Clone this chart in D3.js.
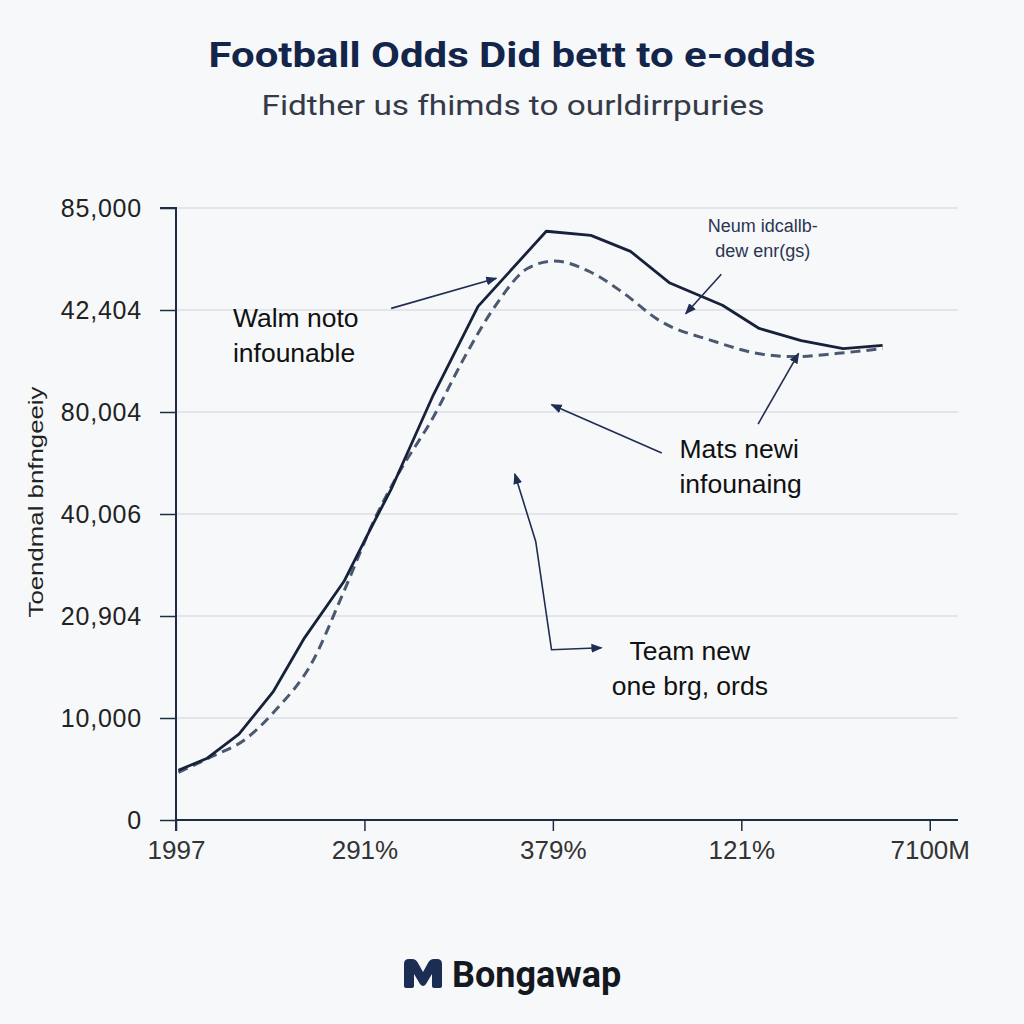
<!DOCTYPE html>
<html><head><meta charset="utf-8">
<script src="https://cdn.jsdelivr.net/npm/d3@7"></script>
<style>html,body{margin:0;padding:0;background:#f7f8fa;}svg{display:block;}</style>
</head><body>
<script>
// ---- data ----
const yTickLabels = ["0","10,000","20,904","40,006","80,004","42,404","85,000"];
const xTickLabels = ["1997","291%","379%","121%","7100M"];
const solidX = [0.013,0.166,0.334,0.515,0.682,0.891,1.031,1.142,1.366,1.603,1.965,2.202,2.412,2.621,2.900,3.095,3.318,3.541,3.750];
const solidY = [0.487,0.606,0.842,1.255,1.786,2.338,2.850,3.243,4.169,5.035,5.772,5.732,5.575,5.264,5.047,4.819,4.700,4.622,4.653];
const dashX = [0.013,0.194,0.361,0.529,0.724,0.877,1.059,1.170,1.366,1.533,1.700,1.867,2.007,2.202,2.370,2.565,2.844,3.123,3.290,3.513,3.750];
const dashY = [0.468,0.625,0.782,1.078,1.551,2.180,2.968,3.362,3.952,4.543,5.055,5.409,5.480,5.370,5.173,4.897,4.700,4.563,4.543,4.575,4.622];
const annotationTexts = [
  {lines:["Walm noto","infounable"], x:0.302, y:4.83, anchor:"start", size:26.5, color:"#111"},
  {lines:["Neum idcallb-","dew enr(gs)"], x:3.114, y:5.76, anchor:"middle", size:18, color:"#2b3550"},
  {lines:["Mats newi","infounaing"], x:2.672, y:3.55, anchor:"start", size:26.5, color:"#111"},
  {lines:["Team new","one brg, ords"], x:2.727, y:1.57, anchor:"middle", size:26.5, color:"#111"}
];
const arrows = [
  {pts:[[1.142,5.016],[1.700,5.311]], heads:"end"},
  {pts:[[2.894,5.350],[2.705,4.964]], heads:"end"},
  {pts:[[2.578,3.598],[1.993,4.071]], heads:"end"},
  {pts:[[3.089,3.882],[3.304,4.575]], heads:"end"},
  {pts:[[2.258,1.688],[1.993,1.669],[1.909,2.731],[1.798,3.393]], heads:"both"}
];

const W=1024,H=1024;
const svg=d3.select("body").append("svg").attr("width",W).attr("height",H);
svg.append("rect").attr("width",W).attr("height",H).attr("fill","#f7f8fa");

const x=d3.scaleLinear().domain([0,4.15]).range([176,958]);
const y=d3.scaleLinear().domain([0,6]).range([820,208]);

const defs=svg.append("defs");
defs.append("marker").attr("id","ah").attr("viewBox","0 0 10 10").attr("refX",9).attr("refY",5)
  .attr("markerWidth",7).attr("markerHeight",7).attr("orient","auto-start-reverse")
  .append("path").attr("d","M0,1 L10,5 L0,9 Z").attr("fill","#1f2d50");

// title
svg.append("text").attr("x",512).attr("y",67).attr("text-anchor","middle")
  .attr("font-family","Roboto, sans-serif").attr("font-weight","bold").attr("font-size",35)
  .attr("fill","#13254a").attr("textLength",607).attr("lengthAdjust","spacingAndGlyphs")
  .text("Football Odds Did bett to e-odds");
svg.append("text").attr("x",513).attr("y",115).attr("text-anchor","middle")
  .attr("font-family","Roboto, sans-serif").attr("font-size",28)
  .attr("fill","#343a48").attr("textLength",503).attr("lengthAdjust","spacingAndGlyphs")
  .text("Fidther us fhimds to ourldirrpuries");

// gridlines
svg.append("g").selectAll("line").data(d3.range(1,7)).join("line")
  .attr("x1",x(0)).attr("x2",x(4.15)).attr("y1",d=>y(d)).attr("y2",d=>y(d))
  .attr("stroke","#dcdfe4").attr("stroke-width",1.5);

// y axis
const yAxis=d3.axisLeft(y).tickValues(d3.range(0,7)).tickFormat(i=>yTickLabels[i]).tickSize(16).tickPadding(18);
const gy=svg.append("g").attr("transform",`translate(${x(0)},0)`).call(yAxis);
gy.select(".domain").attr("stroke","#1f2d44").attr("stroke-width",2).attr("d",`M-16,${y(6)}H0V${y(0)+11}`);
gy.selectAll(".tick line").attr("stroke","#1f2d44").attr("stroke-width",1.5);
gy.selectAll(".tick text").attr("font-family","Liberation Sans, Arial, sans-serif").attr("font-size",25)
  .attr("letter-spacing","0.8").attr("fill","#222").attr("dy","0.35em");

// x axis
const xAxis=d3.axisBottom(x).tickValues(d3.range(0,5)).tickFormat(i=>xTickLabels[i]).tickSize(11).tickPadding(10);
const gx=svg.append("g").attr("transform",`translate(0,${y(0)})`).call(xAxis);
gx.select(".domain").attr("stroke","#1f2d44").attr("stroke-width",2).attr("d",`M${x(0)},0H${x(4.15)}`);
gx.selectAll(".tick line").attr("stroke","#1f2d44").attr("stroke-width",1.5);
gx.selectAll(".tick text").attr("font-family","Liberation Sans, Arial, sans-serif").attr("font-size",26).attr("fill","#333");

// y axis title
svg.append("text").attr("transform","translate(43,502) rotate(-90)").attr("text-anchor","middle")
  .attr("font-family","Liberation Sans, Arial, sans-serif").attr("font-size",21).attr("fill","#222")
  .attr("textLength",231).attr("lengthAdjust","spacingAndGlyphs")
  .text("Toendmal bnfngeeiy");

// lines
const solid=solidX.map((v,i)=>[v,solidY[i]]);
const dash=dashX.map((v,i)=>[v,dashY[i]]);
svg.append("path").datum(dash).attr("fill","none").attr("stroke","#4a5870").attr("stroke-width",3)
  .attr("stroke-dasharray","10,6")
  .attr("d",d3.line().x(d=>x(d[0])).y(d=>y(d[1])).curve(d3.curveMonotoneX));
svg.append("path").datum(solid).attr("fill","none").attr("stroke","#17213a").attr("stroke-width",2.8)
  .attr("stroke-linejoin","round")
  .attr("d",d3.line().x(d=>x(d[0])).y(d=>y(d[1])));

// arrows
const arrowLine=d3.line().x(d=>x(d[0])).y(d=>y(d[1]));
arrows.forEach(a=>{
  const p=svg.append("path").attr("fill","none").attr("stroke","#1f2d50").attr("stroke-width",1.6)
    .attr("d",arrowLine(a.pts)).attr("marker-end","url(#ah)");
  if(a.heads==="both") p.attr("marker-start","url(#ah)");
});

// annotation texts
annotationTexts.forEach(t=>{
  const tx=svg.append("text").attr("x",x(t.x)).attr("y",y(t.y)).attr("text-anchor",t.anchor)
    .attr("font-family","Liberation Sans, Arial, sans-serif").attr("font-size",t.size).attr("fill",t.color);
  t.lines.forEach((l,i)=>tx.append("tspan").attr("x",x(t.x)).attr("dy",i===0?0:(t.size>20?35:25)).text(l));
});

// logo
svg.append("path").attr("d","M404,986 L404,964 Q404,959 409,959 L412,959 Q416,959 418,963 L423,972 L428,963 Q430,959 434,959 L437,959 Q442,959 442,964 L442,986 Q442,988 440,988 L434,988 Q432,988 432,986 L432,974 L426,984 Q423,988 420,984 L414,974 L414,986 Q414,988 412,988 L406,988 Q404,988 404,986 Z")
  .attr("fill","#1b2d52");
svg.append("text").attr("x",452).attr("y",987).attr("font-family","Roboto, sans-serif").attr("font-weight","bold")
  .attr("font-size",36).attr("fill","#141820").text("Bongawap");
</script>
</body></html>
